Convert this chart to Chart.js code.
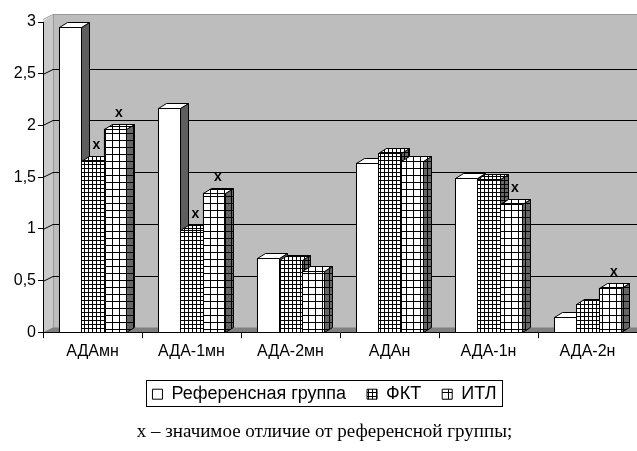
<!DOCTYPE html>
<html>
<head>
<meta charset="utf-8">
<script src="https://cdn.jsdelivr.net/npm/chart.js@4.4.1/dist/chart.umd.min.js"></script>
<style>
html, body { margin: 0; padding: 0; background: #fff; overflow: hidden; }
#wrap { width: 637px; height: 451px; }
</style>
</head>
<body>
<div id="wrap"><canvas id="bar-chart-area"></canvas></div>
<script>
var arrLabel = ['АДАмн', 'АДА-1мн', 'АДА-2мн', 'АДАн', 'АДА-1н', 'АДА-2н'];
var arrDataRef = [2.95, 2.17, 0.72, 1.64, 1.49, 0.15];
var arrDataFKT = [1.66, 0.99, 0.70, 1.73, 1.48, 0.27];
var arrDataITL = [1.97, 1.35, 0.59, 1.66, 1.24, 0.43];
var arrMarkFKT = [1, 1, 0, 0, 0, 0];
var arrMarkITL = [1, 1, 0, 0, 1, 1];
var yTickLabels = ['0', '0,5', '1', '1,5', '2', '2,5', '3'];
var footNote = 'х – значимое отличие от референсной группы;';

var BX = 8, BY = 5;   // bar depth
var WX = 10, WY = 5;  // wall depth

var canvas = document.getElementById('bar-chart-area');
var ctx = canvas.getContext('2d');

function makePattern(step, bg) {
    var c = document.createElement('canvas');
    c.width = step; c.height = step;
    var g = c.getContext('2d');
    g.fillStyle = bg; g.fillRect(0, 0, step, step);
    g.fillStyle = '#000';
    g.fillRect(0, 0, step, 1);
    g.fillRect(0, 0, 1, step);
    return ctx.createPattern(c, 'repeat');
}

var fillFKT = makePattern(4, '#fff');
var fillITL = makePattern(7, '#fff');
var frontFill = ['#fff', fillFKT, fillITL];
var sideFill = ['#5e5e5e', makePattern(4, '#666'), makePattern(7, '#666')];

// walls, floor and gridlines behind the bars, 3d boxes on top
var walls = {
    id: 'walls',
    beforeDraw: function (chart) {
        var c = chart.ctx, a = chart.chartArea, y = chart.scales.y;
        var top = y.getPixelForValue(3);
        c.save();
        c.fillStyle = '#bdbdbd';
        c.fillRect(a.left + WX, top - WY - 2, a.right - a.left - WX, a.bottom - top + 2);
        c.fillStyle = '#c9c9c9';
        c.beginPath();
        c.moveTo(a.left, top - 1); c.lineTo(a.left + WX, top - WY - 2);
        c.lineTo(a.left + WX, a.bottom - WY); c.lineTo(a.left, a.bottom);
        c.closePath(); c.fill();
        c.fillStyle = '#808080';
        c.beginPath();
        c.moveTo(a.left, a.bottom); c.lineTo(a.left + WX, a.bottom - WY);
        c.lineTo(a.right, a.bottom - WY); c.lineTo(a.right, a.bottom);
        c.closePath(); c.fill();
        c.strokeStyle = '#9a9a9a'; c.lineWidth = 1;
        c.beginPath();
        c.moveTo(a.left + WX + 0.5, top - WY - 2); c.lineTo(a.left + WX + 0.5, a.bottom - WY);
        c.moveTo(a.left, top - 2.5); c.lineTo(a.left + WX, top - WY - 2.5); c.lineTo(a.right, top - WY - 2.5);
        c.stroke();
        c.strokeStyle = '#000';
        c.beginPath();
        for (var i = 1; i < yTickLabels.length - 1; i++) {
            var py = Math.round(y.getPixelForValue(i * 0.5)) + 0.5;
            c.moveTo(a.left, py); c.lineTo(a.left + WX, py - WY); c.lineTo(a.right, py - WY);
        }
        c.stroke();
        c.restore();
    },
    afterDatasetsDraw: function (chart) {
        var c = chart.ctx;
        c.save();
        c.strokeStyle = '#000'; c.lineWidth = 1;
        for (var di = 0; di < 3; di++) {
            chart.getDatasetMeta(di).data.forEach(function (bar) {
                var p = bar.getProps(['x', 'y', 'width', 'base'], true);
                var l = Math.round(p.x - p.width / 2) + 0.5, r = Math.round(p.x + p.width / 2) + 0.5;
                var t = Math.round(p.y) + 0.5, b = Math.round(p.base) + 0.5;
                c.fillStyle = frontFill[di];
                c.fillRect(l, t, r - l, b - t);
                c.strokeRect(l, t, r - l, b - t);
                c.fillStyle = sideFill[di];
                c.beginPath();
                c.moveTo(r, t); c.lineTo(r + BX, t - BY);
                c.lineTo(r + BX, b - BY); c.lineTo(r, b);
                c.closePath(); c.fill(); c.stroke();
                c.fillStyle = frontFill[di];
                c.beginPath();
                c.moveTo(l, t); c.lineTo(l + BX, t - BY);
                c.lineTo(r + BX, t - BY); c.lineTo(r, t);
                c.closePath(); c.fill(); c.stroke();
            });
        }
        c.restore();
    },
    afterDraw: function (chart) {
        var c = chart.ctx;
        c.save();
        c.fillStyle = '#000';
        c.font = 'bold 14px "Liberation Sans"';
        c.textAlign = 'center';
        c.textBaseline = 'alphabetic';
        [[1, arrMarkFKT], [2, arrMarkITL]].forEach(function (s) {
            var meta = chart.getDatasetMeta(s[0]);
            s[1].forEach(function (m, i) {
                if (!m) return;
                var bar = meta.data[i];
                c.fillText('x', bar.x + 4, bar.y - BY - 7);
            });
        });
        // legend frame
        var hb = chart.legend.legendHitBoxes;
        if (hb && hb.length) {
            var l = hb[0].left, r = hb[hb.length - 1].left + hb[hb.length - 1].width;
            c.strokeStyle = '#000'; c.lineWidth = 1;
            c.strokeRect(Math.round(l - 6) + 0.5, Math.round(hb[0].top - 5) + 0.5,
                Math.round(r - l + 12), Math.round(hb[0].height + 8));
        }
        c.restore();
    }
};

var configBar = {
    type: 'bar',
    data: {
        labels: arrLabel,
        datasets: [{
            label: 'Референсная группа',
            data: arrDataRef,
            backgroundColor: '#fff',
            borderColor: '#000',
            borderWidth: 1
        }, {
            label: 'ФКТ',
            data: arrDataFKT,
            backgroundColor: fillFKT,
            borderColor: '#000',
            borderWidth: 1
        }, {
            label: 'ИТЛ',
            data: arrDataITL,
            backgroundColor: fillITL,
            borderColor: '#000',
            borderWidth: 1
        }]
    },
    options: {
        responsive: true,
        maintainAspectRatio: false,
        animation: false,
        datasets: { bar: { categoryPercentage: 0.68, barPercentage: 1 } },
        layout: { padding: { top: 22, left: 12, right: 0, bottom: 0 } },
        scales: {
            x: {
                grid: { drawOnChartArea: false, tickLength: 6, color: '#000', offset: true },
                border: { color: '#000' },
                ticks: { color: '#000', padding: 4, font: { family: 'Liberation Sans', size: 16 }, maxRotation: 0 },
                afterFit: function (scale) { scale.height = 32; }
            },
            y: {
                min: 0, max: 3,
                grid: { drawOnChartArea: false, tickLength: 5, color: '#000' },
                border: { color: '#000' },
                ticks: {
                    stepSize: 0.5, color: '#000', padding: 2,
                    font: { family: 'Liberation Sans', size: 16 },
                    callback: function (v, i) { return yTickLabels[i]; }
                },
                afterFit: function (scale) { scale.width = 31; }
            }
        },
        plugins: {
            legend: {
                position: 'bottom',
                labels: {
                    color: '#000',
                    boxWidth: 10, boxHeight: 10,
                    padding: 21,
                    font: { family: 'Liberation Sans', size: 18 },
                    sort: function (a, b) { return a.datasetIndex - b.datasetIndex; }
                }
            },
            title: {
                display: true,
                position: 'bottom',
                text: footNote,
                color: '#000',
                font: { family: 'Liberation Serif', size: 19, weight: 'normal' },
                padding: { top: 7, bottom: 8 }
            },
            tooltip: { enabled: false }
        }
    },
    plugins: [walls]
};

var myBar = new Chart(ctx, configBar);
</script>
</body>
</html>
